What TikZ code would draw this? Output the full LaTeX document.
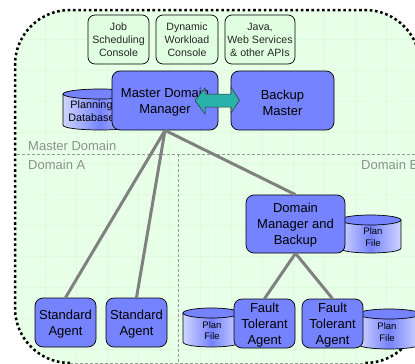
\documentclass[tikz,border=0pt]{standalone}
\usepackage{fontspec}
\setmainfont{Liberation Sans}
\definecolor{bluebox}{RGB}{118,131,255}
\definecolor{greenbox}{RGB}{224,255,224}
\definecolor{bgreen}{RGB}{232,255,232}
\definecolor{gridc}{RGB}{220,252,220}
\definecolor{tealc}{RGB}{40,178,170}
\definecolor{graytxt}{RGB}{140,145,140}
\definecolor{linkc}{RGB}{128,128,128}
\definecolor{cylL}{RGB}{208,214,255}
\tikzset{
 bluenode/.style={draw=black,line width=0.7pt,fill=bluebox,rounded corners=8pt,inner sep=0pt},
 bluetext/.style={align=center,inner sep=0pt,yshift=-2pt,font=\fontsize{13}{16}\selectfont},
 greennode/.style={draw=black,line width=0.7pt,fill=greenbox,rounded corners=7pt,align=center,inner sep=0pt,
   font=\fontsize{10.6}{13}\selectfont,text=black!85},
 link/.style={draw=linkc,line width=3pt},
 divider/.style={draw=gray!80,line width=0.6pt,dash pattern=on 3pt off 2pt},
 domlabel/.style={text=graytxt,anchor=west,inner sep=0pt,font=\fontsize{13}{15}\selectfont},
 cyltext/.style={align=center,inner sep=0pt},
 cylbody/.style={draw=black,line width=0.7pt,left color=cylL,right color=cylL,middle color=bluebox},
 cyltop/.style={draw=black,line width=0.7pt,fill=bluebox},
}
% left, right, top-ellipse centre y, bottom y, ellipse ry
\newcommand{\cylshape}[5]{%
 \path[cylbody] (#1,#3) -- (#1,#4-#5) .. controls (#1,#4+0.33*#5) and (#2,#4+0.33*#5) .. (#2,#4-#5) -- (#2,#3) -- cycle;
 \path[cyltop] ({(#1+#2)/2},#3) ellipse ({(#2-#1)/2} and #5);
}
\begin{document}
\begin{tikzpicture}[x=1pt,y=-1pt]
\useasboundingbox (0,0) rectangle (415,364);
\fill[white] (0,0) rectangle (415,364);
\begin{scope}
\clip (0,0) rectangle (415,364);
\begin{scope}
\clip[rounded corners=55pt] (15,10) rectangle (420,364);
\fill[bgreen] (0,0) rectangle (415,364);
\foreach \g in {6.25,14,...,415}{\draw[gridc!25!bgreen,line width=0.3pt] (\g,0)--(\g,364);}
\foreach \g in {8,15.75,...,364}{\draw[gridc!25!bgreen,line width=0.3pt] (0,\g)--(415,\g);}
\foreach \g in {14,45,...,415}{\draw[gridc,line width=0.7pt] (\g,0)--(\g,364);}
\foreach \g in {8,39,...,364}{\draw[gridc,line width=0.7pt] (0,\g)--(415,\g);}
\end{scope}
\draw[black,line width=2.5pt,dash pattern=on 2.6pt off 2.7pt,rounded corners=55pt] (70,363) -| (15,10) -| (420,363) -- (365,363);
\coordinate (bl) at (70,363.5);
\coordinate (br) at (365,363.5);
\draw[divider] (bl)--(br);
\coordinate (hl) at (17,154);
\coordinate (hr) at (415,154);
\coordinate (vt) at (178,154);
\coordinate (vb) at (178,363);
\draw[divider] (hl)--(hr);
\draw[divider] (vt)--(vb);
\node[domlabel] (mdl) at (28,146) {Master Domain};
\node[domlabel] (dal) at (28,165) {Domain A};
\node[domlabel] (dbl) at (361,165) {Domain B};
\end{scope}
% consoles
\node[greennode,minimum width=61pt,minimum height=49pt] (job) at (118.5,39.5) {Job\\Scheduling\\Console};
\node[greennode,minimum width=62pt,minimum height=49pt] (dyn) at (187,39.5) {Dynamic\\Workload\\Console};
\node[greennode,minimum width=70pt,minimum height=49pt] (java) at (260,39.5) {Java,\\Web Services\\\& other APIs};
% planning db
\cylshape{63}{137}{94}{130}{5}
\node[cyltext,font=\fontsize{10.8}{13}\selectfont] (dbt) at (91.5,111.5) {Planning\\Database};
% plan files
\cylshape{340}{401}{220}{253}{5}
\node[cyltext,font=\fontsize{9.5}{12}\selectfont] (pf1) at (373,237) {Plan\\File};
\cylshape{183}{240}{313}{347}{5}
\node[cyltext,font=\fontsize{9.5}{11.5}\selectfont] (pf2) at (212,330.5) {Plan\\File};
\cylshape{358}{420}{314}{349}{5}
\node[cyltext,font=\fontsize{9.5}{12}\selectfont] (pf3) at (387,332) {Plan\\File};
% boxes
\node[bluenode,minimum width=106pt,minimum height=59pt] (mdm) at (165,100.5) {};
\node[bluetext] (mdmt) at (mdm.center) {Master Domain\\Manager};
\node[bluenode,minimum width=103pt,minimum height=59pt] (bkm) at (282.5,100.5) {};
\node[bluetext] (bkmt) at (bkm.center) {Backup\\Master};
\node[bluenode,minimum width=61pt,minimum height=49pt] (sa1) at (65.5,322.5) {};
\node[bluetext] (sa1t) at (sa1.center) {Standard\\Agent};
\node[bluenode,minimum width=61pt,minimum height=49pt] (sa2) at (136.5,322.5) {};
\node[bluetext] (sa2t) at (sa2.center) {Standard\\Agent};
\node[bluenode,minimum width=99pt,minimum height=58pt] (dm) at (295.5,224) {};
\node[bluetext,yshift=1pt] (dmt) at (dm.center) {Domain\\Manager and\\Backup};
\node[bluenode,minimum width=61pt,minimum height=49pt] (ft1) at (264.5,323.5) {};
\node[bluetext] (ft1t) at (ft1.center) {Fault\\Tolerant\\Agent};
\node[bluenode,minimum width=61pt,minimum height=49pt] (ft2) at (332.5,323.5) {};
\node[bluetext] (ft2t) at (ft2.center) {Fault\\Tolerant\\Agent};
% connectors
\draw[link] (mdm.south) -- (sa1.north);
\draw[link] (mdm.south) -- (sa2.north);
\draw[link] (mdm.south) -- (dm.north);
\draw[link] (dm.south) -- (ft1.north);
\draw[link] (dm.south) -- (ft2.north);
% double arrow
\draw[draw=black!80,line width=0.5pt,fill=tealc] (195,100.5)--(205,88)--(205,94)--(231,94)--(231,87)--(239.5,100.5)--(231,113)--(231,107)--(205,107)--(205,114)--cycle;
\end{tikzpicture}
\end{document}
